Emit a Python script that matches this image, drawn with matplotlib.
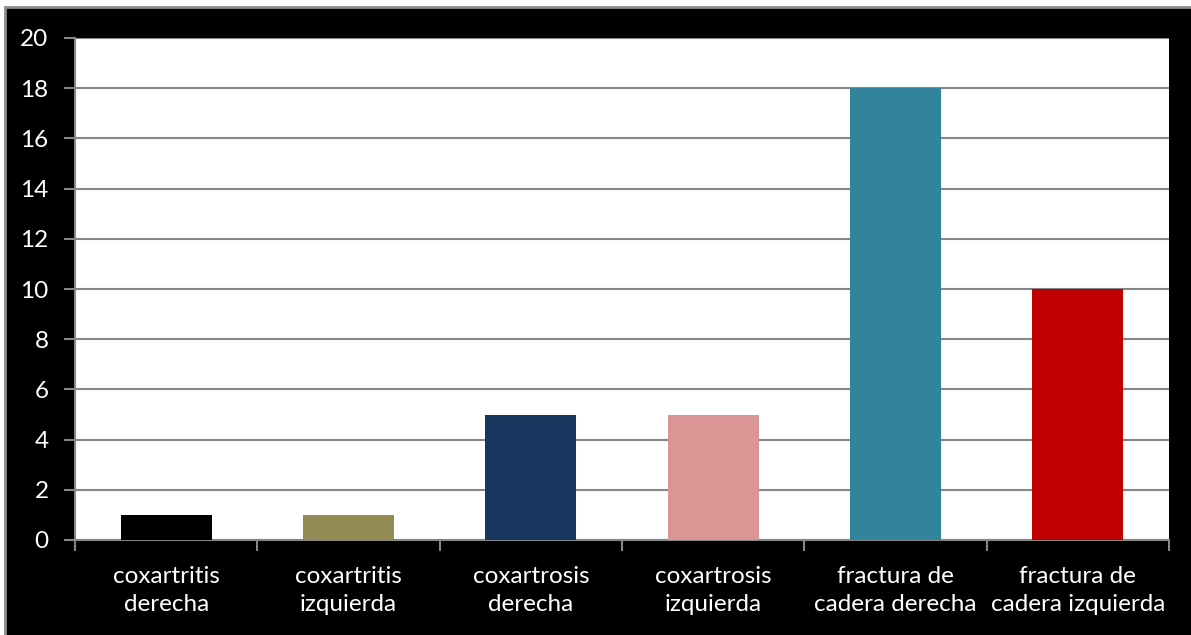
import matplotlib.pyplot as plt
from matplotlib.patches import Rectangle
import numpy as np

# casos por diagnostico
categorias = ['coxartritis\nderecha', 'coxartritis\nizquierda', 'coxartrosis\nderecha',
              'coxartrosis\nizquierda', 'fractura de\ncadera derecha', 'fractura de\ncadera izquierda']
casos = [1, 1, 5, 5, 18, 10]
colores = ['#000000', '#948A54', '#17375E', '#D99694', '#31849B', '#C00000']
yticks = [0, 2, 4, 6, 8, 10, 12, 14, 16, 18, 20]

plt.rcParams['font.family'] = ['Lato', 'DejaVu Sans']

fig = plt.figure(figsize=(11.91, 6.35), dpi=100, facecolor='white')
# marco negro con borde gris
fig.patches.append(Rectangle((5 / 1191, -0.05), 1.1, (628 / 635) + 0.05,
                             transform=fig.transFigure, facecolor='black',
                             edgecolor='#8c8c8c', linewidth=2, zorder=-10))

ax = fig.add_axes([75 / 1191, 1 - 540 / 635, (1169 - 75) / 1191, (540 - 38) / 635])
ax.set_facecolor('white')
x = np.arange(len(casos))
ax.bar(x, casos, width=0.5, color=colores, zorder=3)

ax.set_xlim(-0.5, len(casos) - 0.5)
ax.set_ylim(0, 20)
ax.set_yticks(yticks)
ax.grid(axis='y', color='#868686', linewidth=1.5, zorder=1)

ax.set_xticks(x)
ax.set_xticklabels(categorias, color='white', fontsize=17.5, linespacing=1.4)
ax.tick_params(axis='x', length=0, pad=19)
ax.set_xticks(np.arange(len(casos) + 1) - 0.5, minor=True)
ax.tick_params(axis='x', which='minor', length=8, width=1.5, color='#868686')
ax.tick_params(axis='y', length=8, width=1.5, color='#868686', labelcolor='white',
               labelsize=17.5, pad=11)

for s in ['top', 'right']:
    ax.spines[s].set_visible(False)
for s in ['left', 'bottom']:
    ax.spines[s].set_color('#868686')
    ax.spines[s].set_linewidth(1.5)

fig.savefig('out.png', dpi=100, facecolor=fig.get_facecolor())
